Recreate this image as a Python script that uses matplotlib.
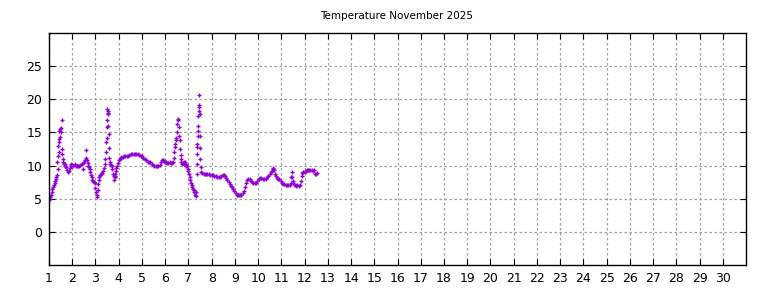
import matplotlib
matplotlib.use("Agg")
import matplotlib.pyplot as plt

# readings (day of month, deg C)
days = [
    1.00, 1.03, 1.06, 1.09, 1.12, 1.15, 1.18, 1.21, 1.24, 1.27, 1.30, 1.32,
    1.34, 1.35, 1.37, 1.38, 1.40, 1.41, 1.42, 1.44, 1.45, 1.47, 1.49, 1.51,
    1.53, 1.55, 1.56, 1.57, 1.59, 1.61, 1.64, 1.67, 1.70, 1.74, 1.78, 1.81,
    1.85, 1.89, 1.93, 1.96, 2.00, 2.05, 2.10, 2.15, 2.20, 2.25, 2.30, 2.35,
    2.40, 2.45, 2.48, 2.52, 2.55, 2.58, 2.60, 2.63, 2.66, 2.69, 2.72, 2.75,
    2.78, 2.81, 2.84, 2.87, 2.90, 2.93, 2.96, 2.99, 3.02, 3.05, 3.07, 3.09,
    3.11, 3.14, 3.17, 3.21, 3.25, 3.29, 3.33, 3.37, 3.40, 3.43, 3.45, 3.46,
    3.48, 3.49, 3.50, 3.51, 3.52, 3.53, 3.55, 3.56, 3.57, 3.58, 3.60, 3.62,
    3.64, 3.67, 3.70, 3.73, 3.76, 3.78, 3.80, 3.82, 3.84, 3.86, 3.88, 3.90,
    3.93, 3.96, 4.00, 4.04, 4.08, 4.12, 4.17, 4.22, 4.28, 4.34, 4.40, 4.46,
    4.52, 4.58, 4.64, 4.70, 4.76, 4.82, 4.88, 4.94, 5.00, 5.06, 5.12, 5.18,
    5.24, 5.30, 5.36, 5.42, 5.48, 5.54, 5.60, 5.66, 5.71, 5.76, 5.81, 5.85,
    5.89, 5.94, 5.99, 6.04, 6.09, 6.14, 6.19, 6.24, 6.29, 6.33, 6.37, 6.40,
    6.42, 6.44, 6.46, 6.48, 6.50, 6.52, 6.54, 6.56, 6.58, 6.60, 6.62, 6.64,
    6.66, 6.68, 6.70, 6.73, 6.76, 6.79, 6.82, 6.85, 6.88, 6.91, 6.94, 6.97,
    7.00, 7.03, 7.06, 7.09, 7.11, 7.14, 7.17, 7.20, 7.23, 7.26, 7.29, 7.31,
    7.33, 7.35, 7.36, 7.37, 7.38, 7.39, 7.40, 7.41, 7.42, 7.43, 7.44, 7.45,
    7.46, 7.47, 7.48, 7.49, 7.50, 7.51, 7.53, 7.56, 7.60, 7.65, 7.70, 7.76,
    7.82, 7.88, 7.94, 8.00, 8.06, 8.12, 8.18, 8.24, 8.30, 8.36, 8.42, 8.48,
    8.53, 8.58, 8.63, 8.68, 8.73, 8.78, 8.83, 8.88, 8.93, 8.98, 9.03, 9.08,
    9.13, 9.18, 9.23, 9.28, 9.33, 9.38, 9.43, 9.48, 9.53, 9.58, 9.63, 9.68,
    9.73, 9.79, 9.85, 9.91, 9.97, 10.03, 10.08, 10.14, 10.20, 10.26, 10.32,
    10.38, 10.44, 10.50, 10.55, 10.59, 10.63, 10.65, 10.68, 10.72, 10.77,
    10.82, 10.87, 10.92, 10.97, 11.02, 11.07, 11.12, 11.18, 11.24, 11.30,
    11.36, 11.40, 11.43, 11.45, 11.47, 11.50, 11.54, 11.59, 11.64, 11.69,
    11.74, 11.79, 11.83, 11.87, 11.91, 11.95, 12.00, 12.05, 12.10, 12.15,
    12.20, 12.25, 12.30, 12.35, 12.40, 12.45, 12.50, 12.54,
]
temps = [
    4.9, 5.0, 5.2, 5.6, 6.0, 6.4, 6.8, 7.1, 7.4, 7.7, 8.0, 8.3,
    8.6, 10.5, 9.5, 11.5, 13.0, 12.0, 14.0, 15.2, 13.5, 15.5, 14.3, 15.6,
    15.0, 16.8, 12.5, 11.8, 11.0, 10.5, 10.3, 10.2, 10.0, 9.8, 9.3, 9.0,
    9.2, 9.6, 10.0, 10.3, 10.1, 10.0, 10.2, 10.0, 10.0, 9.9, 10.0, 10.1,
    10.3, 10.4, 9.5, 10.6, 10.9, 12.3, 11.2, 10.8, 10.4, 10.0, 9.8, 9.5,
    9.0, 8.6, 8.2, 7.8, 7.6, 7.5, 7.3, 6.6, 6.0, 5.6, 5.3, 6.3,
    7.2, 7.8, 8.2, 8.6, 8.8, 8.9, 9.2, 9.6, 10.2, 11.0, 12.0, 13.6,
    14.2, 15.8, 16.8, 18.5, 18.0, 18.3, 17.8, 15.9, 14.8, 12.6, 11.2, 10.5,
    10.3, 10.1, 9.9, 9.5, 8.8, 8.4, 7.8, 8.2, 8.5, 8.8, 9.2, 9.6,
    10.0, 10.4, 10.8, 11.0, 11.2, 11.3, 11.3, 11.4, 11.4, 11.5, 11.5, 11.6,
    11.7, 11.7, 11.8, 11.8, 11.8, 11.7, 11.6, 11.5, 11.4, 11.2, 11.0, 10.8,
    10.6, 10.5, 10.5, 10.3, 10.1, 10.0, 10.0, 9.9, 9.9, 10.1, 10.5, 10.8,
    10.8, 10.7, 10.5, 10.5, 10.4, 10.4, 10.5, 10.4, 10.4, 10.6, 11.2, 12.0,
    12.8, 13.2, 13.8, 14.2, 15.0, 16.2, 16.8, 17.0, 15.8, 14.4, 13.8, 12.5,
    11.6, 11.0, 10.5, 10.3, 10.4, 10.6, 10.3, 10.5, 10.2, 10.0, 9.9, 9.5,
    9.2, 8.8, 8.3, 7.8, 7.3, 7.0, 6.7, 6.5, 6.3, 6.0, 5.6, 5.4,
    6.0, 8.8, 10.2, 11.8, 12.8, 13.2, 14.5, 15.2, 16.0, 17.5, 18.3, 18.8,
    19.2, 20.6, 17.8, 14.5, 12.6, 11.0, 9.8, 9.0, 8.9, 8.8, 8.8, 8.7,
    8.7, 8.7, 8.6, 8.6, 8.6, 8.5, 8.4, 8.3, 8.2, 8.3, 8.5, 8.6,
    8.6, 8.4, 8.1, 7.8, 7.5, 7.2, 6.9, 6.7, 6.4, 6.1, 5.8, 5.6,
    5.5, 5.5, 5.5, 5.6, 5.8, 6.2, 6.7, 7.3, 7.8, 8.0, 7.9, 7.7,
    7.5, 7.4, 7.4, 7.4, 7.6, 7.9, 8.1, 8.1, 8.0, 7.9, 7.9,
    8.2, 8.5, 8.8, 9.0, 9.2, 9.5, 9.7, 9.3, 8.7, 8.4,
    8.1, 8.0, 7.9, 7.7, 7.4, 7.2, 7.2, 7.1, 7.1, 7.1,
    7.1, 7.3, 8.2, 9.1, 8.3, 7.6, 7.2, 7.0, 6.9, 7.0,
    6.9, 7.1, 7.6, 8.5, 8.9, 9.0, 9.1, 9.2, 9.3, 9.3,
    9.3, 9.4, 9.4, 9.2, 9.3, 8.8, 8.8, 8.9,
]

x_ticks = list(range(1, 31))
y_ticks = [0, 5, 10, 15, 20, 25]

fig = plt.figure(figsize=(7.68, 2.88), dpi=100)
ax = fig.add_axes([0.0638, 0.0799, 0.9076, 0.8055])

ax.plot(days, temps, linestyle="none", marker="+", markersize=3.5,
        markeredgewidth=1.0, color="#9400d3")

ax.set_xlim(1, 31)
ax.set_ylim(-5, 30)
ax.set_xticks(x_ticks)
ax.set_yticks(y_ticks)
ax.tick_params(direction="in", top=True, right=True, length=4,
               labelsize=9, pad=5)
ax.grid(True, color="#a0a0a0", linestyle=(0, (2, 2)), linewidth=0.9)
for s in ax.spines.values():
    s.set_linewidth(1.0)

# title is centred over the plot area, not the whole figure
fig.text(0.517, 0.943, "Temperature November 2025", ha="center", va="center",
         fontsize=7.5)

fig.savefig("out.png", dpi=100)
